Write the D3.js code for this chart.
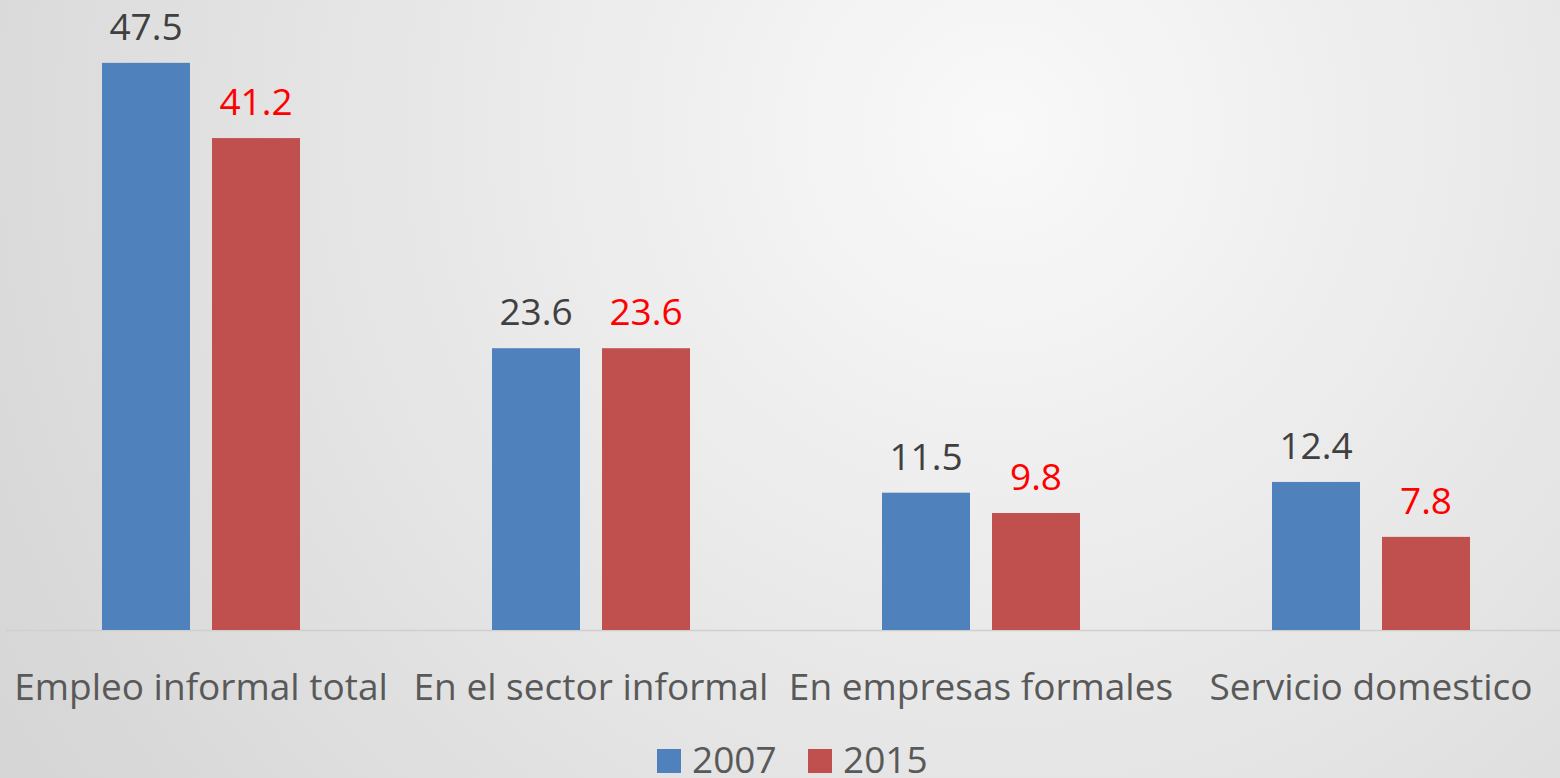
<!DOCTYPE html>
<html>
<head>
<meta charset="utf-8">
<script src="https://cdn.jsdelivr.net/npm/d3@7"></script>
<style>
  html, body { margin: 0; padding: 0; overflow: hidden; }
  text { font-family: "Open Sans", "Noto Sans", sans-serif; }
</style>
</head>
<body>
<svg id="chart" width="1560" height="778"></svg>
<script>
// data
const categories = ["Empleo informal total", "En el sector informal", "En empresas formales", "Servicio domestico"];
const seriesNames = ["2007", "2015"];
const values2007 = [47.5, 23.6, 11.5, 12.4];
const values2015 = [41.2, 23.6, 9.8, 7.8];

const CONFIG = {
  width: 1560,
  height: 778,
  baseline: 630,
  top: 33,
  colors: { "2007": "#4F81BD", "2015": "#C0504D" },
  labelColors: { "2007": "#404040", "2015": "#FF0000" },
  fontSize: 37
};

const rows = categories.map((c, i) => ({
  category: c,
  vals: [
    { key: "2007", value: values2007[i] },
    { key: "2015", value: values2015[i] }
  ]
}));

const mainSVG = d3.select("#chart");

// background gradient
const defs = mainSVG.append("defs");
const grad = defs.append("radialGradient")
  .attr("id", "bg")
  .attr("gradientUnits", "userSpaceOnUse")
  .attr("cx", 1000).attr("cy", 130).attr("r", 1150);
grad.append("stop").attr("offset", "0%").attr("stop-color", "#f9f9f9");
grad.append("stop").attr("offset", "100%").attr("stop-color", "#d6d6d6");

mainSVG.append("rect")
  .attr("width", CONFIG.width)
  .attr("height", CONFIG.height)
  .attr("fill", "url(#bg)");

// scales
const x0 = d3.scaleBand()
  .domain(categories)
  .range([6, 1566])
  .paddingInner(192 / 390)
  .paddingOuter(96 / 390);

const x1 = d3.scaleBand()
  .domain(seriesNames)
  .range([0, x0.bandwidth()])
  .paddingInner(0.2);

const y = d3.scaleLinear()
  .domain([0, 50])
  .range([CONFIG.baseline, CONFIG.top]);

// baseline
mainSVG.append("line")
  .attr("x1", 6)
  .attr("x2", CONFIG.width)
  .attr("y1", y(0) + 0.5)
  .attr("y2", y(0) + 0.5)
  .attr("stroke", "#cfcfcf")
  .attr("stroke-width", 1.5);

// bars
const groups = mainSVG.append("g")
  .selectAll("g")
  .data(rows)
  .enter()
  .append("g")
  .attr("transform", (d) => "translate(" + x0(d.category) + ",0)");

groups.selectAll("rect")
  .data((d) => d.vals)
  .enter()
  .append("rect")
  .attr("x", (d) => x1(d.key))
  .attr("y", (d) => y(d.value))
  .attr("width", x1.bandwidth())
  .attr("height", (d) => y(0) - y(d.value))
  .attr("fill", (d) => CONFIG.colors[d.key]);

// value labels
groups.selectAll("text.val")
  .data((d) => d.vals)
  .enter()
  .append("text")
  .classed("val", true)
  .attr("x", (d) => x1(d.key) + x1.bandwidth() / 2)
  .attr("y", (d) => y(d.value) - 23)
  .style("text-anchor", "middle")
  .style("font-size", CONFIG.fontSize + "px")
  .attr("fill", (d) => CONFIG.labelColors[d.key])
  .text((d) => d.value.toFixed(1));

// category labels
mainSVG.append("g")
  .selectAll("text")
  .data(categories)
  .enter()
  .append("text")
  .attr("x", (d) => x0(d) + x0.bandwidth() / 2)
  .attr("y", 700)
  .style("text-anchor", "middle")
  .style("font-size", CONFIG.fontSize + "px")
  .attr("fill", "#595959")
  .text((d) => d);

// legend
const legendX = [657, 808];
const legend = mainSVG.append("g")
  .selectAll("g")
  .data(seriesNames)
  .enter()
  .append("g")
  .attr("transform", (d, i) => "translate(" + legendX[i] + ",749)");

legend.append("rect")
  .attr("width", 24)
  .attr("height", 24)
  .attr("fill", (d) => CONFIG.colors[d]);

legend.append("text")
  .attr("x", 35)
  .attr("y", 24)
  .style("font-size", CONFIG.fontSize + "px")
  .attr("fill", "#595959")
  .text((d) => d);
</script>
</body>
</html>
